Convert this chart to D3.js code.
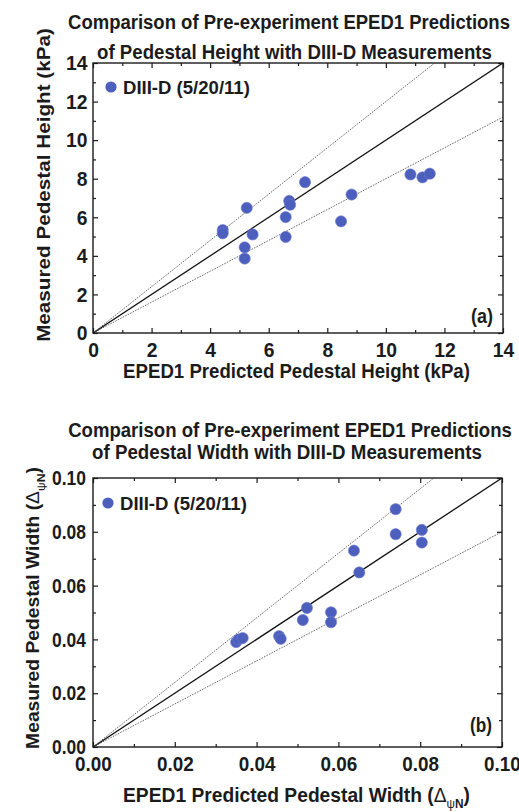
<!DOCTYPE html>
<html>
<head>
<meta charset="utf-8">
<script src="https://cdn.jsdelivr.net/npm/d3@7"></script>
<style>
  html, body { margin: 0; padding: 0; background: #fff; }
  svg { display: block; font-family: "Liberation Sans", Arial, Helvetica, sans-serif; font-weight: bold; }
</style>
</head>
<body>
<svg id="chart" width="519" height="812"></svg>
<script>
// Pedestal height (kPa): EPED1 prediction vs DIII-D measurement
const heightPred = [4.43, 4.43, 5.25, 5.45, 5.18, 5.18, 6.58, 6.58, 6.70, 6.73, 7.24, 8.47, 8.83, 10.84, 11.25, 11.50];
const heightMeas = [5.34, 5.17, 6.49, 5.11, 4.44, 3.86, 6.01, 4.98, 6.85, 6.65, 7.82, 5.79, 7.18, 8.22, 8.07, 8.26];

// Pedestal width (delta psi_N): EPED1 prediction vs DIII-D measurement
const widthPred = [0.0350, 0.0356, 0.0366, 0.0455, 0.0459, 0.0513, 0.0523, 0.0582, 0.0582, 0.0651, 0.0638, 0.0740, 0.0740, 0.0804, 0.0804];
const widthMeas = [0.0390, 0.0400, 0.0405, 0.0412, 0.0402, 0.0472, 0.0517, 0.0501, 0.0464, 0.0649, 0.0730, 0.0884, 0.0791, 0.0807, 0.0760];

// Axis ticks
const heightMajor = [0, 2, 4, 6, 8, 10, 12, 14];
const heightMinor = [1, 3, 5, 7, 9, 11, 13];
const widthMajor = [0, 0.02, 0.04, 0.06, 0.08, 0.10];
const widthMinor = [0.01, 0.03, 0.05, 0.07, 0.09];

// Guide lines: measured = slope * predicted
const guideSlopes = [0.8, 1.0, 1.2];

const seriesLabel = "DIII-D (5/20/11)";
const heightTitle = ["Comparison of Pre-experiment EPED1 Predictions", "of Pedestal Height with DIII-D Measurements"];
const widthTitle = ["Comparison of Pre-experiment EPED1 Predictions", "of Pedestal Width with DIII-D Measurements"];

const svg = d3.select("#chart");
const INK = "#1b1b1b";
const DOT = "#4d5fbd";
const TICK_FS = 21;

// Horizontal text anchored at (x,y), squeezed to a given width
function hText(g, x, y, anchor, size, width, build) {
  const t = g.append("text")
    .attr("text-anchor", anchor)
    .attr("font-size", size)
    .attr("fill", INK);
  build(t);
  const k = width ? width / t.node().getComputedTextLength() : 1;
  t.attr("transform", `translate(${x},${y}) scale(${k},1)`);
  return t;
}

// Rotated text, stretched along its run to a given length
function vText(g, x, y, size, length, thick, build) {
  const t = g.append("text")
    .attr("text-anchor", "middle")
    .attr("font-size", size)
    .attr("fill", INK);
  build(t);
  const k = length / t.node().getComputedTextLength();
  t.attr("transform", `translate(${x},${y}) rotate(-90) scale(${k},${thick})`);
  return t;
}

function panel(cfg) {
  const { left, right, top, bottom, domain, major, minor, fmt, px, py } = cfg;
  const x = d3.scaleLinear().domain(domain).range([left, right]);
  const y = d3.scaleLinear().domain(domain).range([bottom, top]);
  const g = svg.append("g");

  // title
  cfg.title.forEach((t, i) => {
    hText(g, cfg.titleX[i], cfg.titleY[i], "middle", 19.5, cfg.titleW[i], s => s.text(t));
  });

  // clip region for guide lines
  const clipId = "clip" + cfg.id;
  svg.append("clipPath").attr("id", clipId)
    .append("rect").attr("x", left).attr("y", top)
    .attr("width", right - left).attr("height", bottom - top);

  const lines = g.append("g").attr("clip-path", `url(#${clipId})`);
  const dmax = domain[1];
  guideSlopes.forEach(s => {
    lines.append("line")
      .attr("x1", x(0)).attr("y1", y(0))
      .attr("x2", x(dmax)).attr("y2", y(dmax * s))
      .attr("stroke", s === 1 ? "#111" : "#6a6a6a")
      .attr("stroke-width", s === 1 ? 1.3 : 1)
      .attr("stroke-dasharray", s === 1 ? null : "1.6,1.2");
  });

  // minor ticks, inward on all four sides
  [
    [d3.axisBottom(x), `translate(0,${bottom})`],
    [d3.axisTop(x), `translate(0,${top})`],
    [d3.axisLeft(y), `translate(${left},0)`],
    [d3.axisRight(y), `translate(${right},0)`]
  ].forEach(([ax, tr]) => {
    const gm = g.append("g").attr("transform", tr)
      .call(ax.tickValues(minor).tickSize(-3).tickFormat(""));
    gm.select(".domain").remove();
    gm.selectAll("line").attr("stroke", INK).attr("stroke-width", 1.2);
  });

  // major ticks, labelled on bottom and left
  [
    [d3.axisBottom(x), `translate(0,${bottom})`, true, 9, cfg.xSq],
    [d3.axisTop(x), `translate(0,${top})`, false, 3, 1],
    [d3.axisLeft(y), `translate(${left},0)`, true, cfg.ypad, cfg.ySq],
    [d3.axisRight(y), `translate(${right},0)`, false, 3, 1]
  ].forEach(([ax, tr, lab, pad, sq]) => {
    const gm = g.append("g").attr("transform", tr)
      .call(ax.tickValues(major).tickSize(-5).tickPadding(pad)
        .tickFormat(lab ? fmt : ""));
    gm.select(".domain").remove();
    gm.selectAll("line").attr("stroke", INK).attr("stroke-width", 1.2);
    gm.selectAll("text")
      .attr("font-size", TICK_FS).attr("fill", INK)
      .attr("font-family", '"Liberation Sans", Arial, sans-serif')
      .attr("font-weight", "bold")
      .attr("transform", `scale(${sq},1)`);
  });

  // frame
  g.append("rect")
    .attr("x", left).attr("y", top)
    .attr("width", right - left).attr("height", bottom - top)
    .attr("fill", "none").attr("stroke", INK).attr("stroke-width", 1.4);

  // points
  g.append("g").selectAll("circle")
    .data(d3.range(px.length))
    .join("circle")
    .attr("cx", i => x(px[i]))
    .attr("cy", i => y(py[i]))
    .attr("r", 5.6)
    .attr("fill", DOT)
    .attr("stroke", "#6b7bd0")
    .attr("stroke-width", 0.6);

  // legend
  g.append("circle").attr("cx", left + cfg.legDx).attr("cy", top + cfg.legDy)
    .attr("r", 5.6).attr("fill", DOT);
  hText(g, left + cfg.legDx + 12, top + cfg.legDy + 6.5, "start", 18.5, 127, s => s.text(seriesLabel));

  // panel tag
  hText(g, right - 10, bottom - cfg.tagDy, "end", 20, 22, s => s.text(cfg.tag));

  // axis titles
  hText(g, cfg.xLabelX, cfg.xLabelY, "middle", 19.5, 347, cfg.xLabel);
  vText(g, cfg.yLabelX, cfg.yLabelY, 19, cfg.yLabelLen, 0.92, cfg.yLabel);
}

function deltaLabel(t, lead) {
  t.append("tspan").text(lead + " (");
  t.append("tspan").attr("font-weight", "normal").text("\u0394");
  t.append("tspan").attr("font-size", 12).attr("dy", 6).attr("font-weight", "normal").text("\u03C8");
  t.append("tspan").attr("font-size", 12).text("N");
  t.append("tspan").attr("dy", -6).text(")");
}

panel({
  id: "a",
  left: 93, right: 503, top: 63, bottom: 333,
  domain: [0, 14],
  major: heightMajor, minor: heightMinor,
  fmt: d3.format("d"),
  px: heightPred, py: heightMeas,
  ypad: 6, xSq: 0.92, ySq: 0.92,
  title: heightTitle, titleX: [289, 294.5], titleY: [29, 59], titleW: [442, 395],
  legDx: 18, legDy: 24, tag: "(a)", tagDy: 10,
  xLabelX: 296.5, xLabelY: 378,
  xLabel: t => t.text("EPED1 Predicted Pedestal Height (kPa)"),
  yLabelX: 50, yLabelY: 185, yLabelLen: 314,
  yLabel: t => t.text("Measured Pedestal Height (kPa)")
});

panel({
  id: "b",
  left: 93, right: 502, top: 478, bottom: 747,
  domain: [0, 0.10],
  major: widthMajor, minor: widthMinor,
  fmt: d3.format(".2f"),
  px: widthPred, py: widthMeas,
  ypad: 8.5, xSq: 0.9, ySq: 0.83,
  title: widthTitle, titleX: [290, 287], titleY: [437, 459], titleW: [444, 390],
  legDx: 15, legDy: 25, tag: "(b)", tagDy: 15,
  xLabelX: 296.5, xLabelY: 802,
  xLabel: t => deltaLabel(t, "EPED1 Predicted Pedestal Width"),
  yLabelX: 39, yLabelY: 608, yLabelLen: 282,
  yLabel: t => deltaLabel(t, "Measured Pedestal Width")
});
</script>
</body>
</html>
